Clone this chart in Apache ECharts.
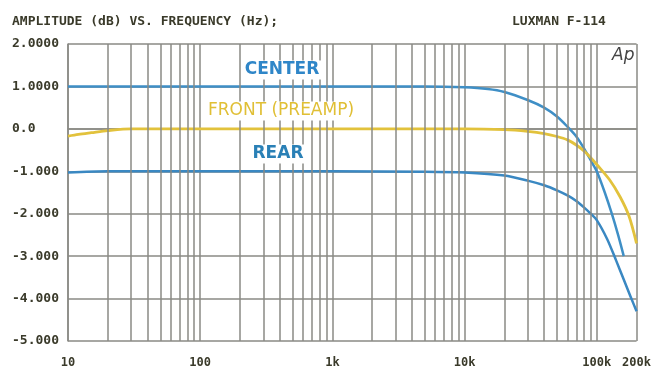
<!DOCTYPE html>
<html>
<head>
<meta charset="utf-8">
<script src="https://cdn.jsdelivr.net/npm/echarts@6/dist/echarts.min.js"></script>
<style>
html,body{margin:0;padding:0;background:#fff;}
#c{width:654px;height:370px;}
</style>
</head>
<body>
<div id="c"></div>
<script>
// ---- data ----
var centerFreq = [10, 15, 20, 30, 50, 100, 1000, 5000, 10000, 15000, 20000, 30000, 40000, 50000, 60000, 70000, 80000, 90000, 100000, 115000, 130000, 145000, 160000];
var centerVals = [1.0, 1.0, 1.0, 1.0, 1.0, 1.0, 1.0, 1.0, 0.98, 0.94, 0.87, 0.68, 0.5, 0.29, 0.05, -0.18, -0.46, -0.74, -1.0, -1.5, -2.0, -2.5, -3.0];

var frontFreq = [10, 12, 15, 20, 30, 50, 100, 1000, 10000, 20000, 30000, 40000, 50000, 60000, 70000, 80000, 90000, 100000, 125000, 150000, 175000, 200000];
var frontVals = [-0.17, -0.13, -0.09, -0.04, 0, 0, 0, 0, 0, -0.02, -0.06, -0.11, -0.18, -0.26, -0.38, -0.52, -0.68, -0.84, -1.2, -1.6, -2.05, -2.7];

var rearFreq = [10, 20, 100, 1000, 5000, 10000, 20000, 30000, 40000, 50000, 60000, 70000, 80000, 90000, 100000, 120000, 140000, 160000, 180000, 200000];
var rearVals = [-1.03, -1.0, -1.0, -1.0, -1.01, -1.03, -1.1, -1.22, -1.33, -1.45, -1.57, -1.7, -1.85, -2.0, -2.15, -2.6, -3.1, -3.55, -3.95, -4.3];

var xTickValues = [10, 100, 1000, 10000, 100000, 200000];
var xTickLabels = ['10', '100', '1k', '10k', '100k', '200k'];
var yTickValues = [-5, -4, -3, -2, -1, 0, 1, 2];
var yTickLabels = ['-5.000', '-4.000', '-3.000', '-2.000', '-1.000', '0.0', '1.0000', '2.0000'];
var minorDecades = [10, 100, 1000, 10000];
var minorSteps = [2, 3, 4, 5, 6, 7, 8, 9];

// ---- build ----
function pairs(f, v) { return f.map(function (x, i) { return [x, v[i]]; }); }
var minorGrid = [];
minorDecades.forEach(function (d) { minorSteps.forEach(function (s) { minorGrid.push({ xAxis: d * s }); }); });

var gridColor = '#8a8a84';
var textColor = '#3a3a2a';
var monoFont = '"DejaVu Sans Mono", monospace';

var chart = echarts.init(document.getElementById('c'), null, { renderer: 'canvas' });
chart.setOption({
  backgroundColor: '#ffffff',
  animation: false,
  grid: { left: 68, right: 14, top: 44, bottom: 29, containLabel: false },
  xAxis: {
    type: 'log', logBase: 10, min: 10, max: 200000,
    axisLine: { show: true, lineStyle: { color: gridColor, width: 1.5 } },
    axisTick: { show: false },
    splitLine: { show: true, lineStyle: { color: gridColor, width: 1.5 } },
    axisLabel: {
      margin: 16, color: textColor, fontFamily: monoFont, fontWeight: 'bold', fontSize: 12,
      showMinLabel: true, showMaxLabel: true,
      formatter: function (v) {
        var i = xTickValues.findIndex(function (t) { return Math.abs(t - v) / t < 1e-6; });
        return i >= 0 ? xTickLabels[i] : '';
      }
    }
  },
  yAxis: {
    type: 'value', min: -5, max: 2, interval: 1,
    axisLine: { show: true, lineStyle: { color: gridColor, width: 1.5 } },
    axisTick: { show: false },
    splitLine: { show: true, lineStyle: { color: gridColor, width: 1.5 } },
    axisLabel: {
      margin: 56, align: 'left', color: textColor, fontFamily: monoFont, fontWeight: 'bold', fontSize: 13,
      formatter: function (v) {
        var i = yTickValues.indexOf(Math.round(v));
        return i >= 0 ? yTickLabels[i] : '';
      }
    }
  },
  series: [
    {
      type: 'line', data: [], z: 1, silent: true,
      markLine: {
        silent: true, symbol: 'none', label: { show: false },
        lineStyle: { color: gridColor, width: 1.5, type: 'solid' },
        data: minorGrid
      }
    },
    {
      name: 'CENTER', type: 'line', smooth: 0.3, showSymbol: false, z: 3,
      lineStyle: { color: '#3f8fc6', width: 2.5 },
      data: pairs(centerFreq, centerVals)
    },
    {
      name: 'FRONT (PREAMP)', type: 'line', smooth: 0.3, showSymbol: false, z: 3,
      lineStyle: { color: '#e2c23c', width: 2.8 },
      data: pairs(frontFreq, frontVals)
    },
    {
      name: 'REAR', type: 'line', smooth: 0.3, showSymbol: false, z: 3,
      lineStyle: { color: '#3a88c2', width: 2.5 },
      data: pairs(rearFreq, rearVals)
    }
  ],
  graphic: [
    { type: 'text', left: 12, top: 15, style: { text: 'AMPLITUDE (dB) VS. FREQUENCY (Hz);', fill: textColor, font: 'bold 13px "DejaVu Sans Mono", monospace' } },
    { type: 'text', left: 512, top: 15, style: { text: 'LUXMAN F-114', fill: textColor, font: 'bold 13px "DejaVu Sans Mono", monospace' } },
    { type: 'text', left: 612, top: 47, z: 10, style: { text: 'Ap', fill: '#444444', font: 'italic 17px "DejaVu Sans", sans-serif' } },
    { type: 'text', x: 282, y: 70, z: 10, style: { text: 'CENTER', fill: '#2f86c8', align: 'center', verticalAlign: 'middle', font: 'bold 17px "DejaVu Sans", sans-serif', backgroundColor: '#ffffff', padding: [1, 2] } },
    { type: 'text', x: 281, y: 111, z: 10, style: { text: 'FRONT (PREAMP)', fill: '#e0bf35', align: 'center', verticalAlign: 'middle', font: '17px "DejaVu Sans", sans-serif', backgroundColor: '#ffffff', padding: [1, 2] } },
    { type: 'text', x: 278, y: 154, z: 10, style: { text: 'REAR', fill: '#2a80b6', align: 'center', verticalAlign: 'middle', font: 'bold 17px "DejaVu Sans", sans-serif', backgroundColor: '#ffffff', padding: [1, 2] } }
  ]
});
</script>
</body>
</html>
